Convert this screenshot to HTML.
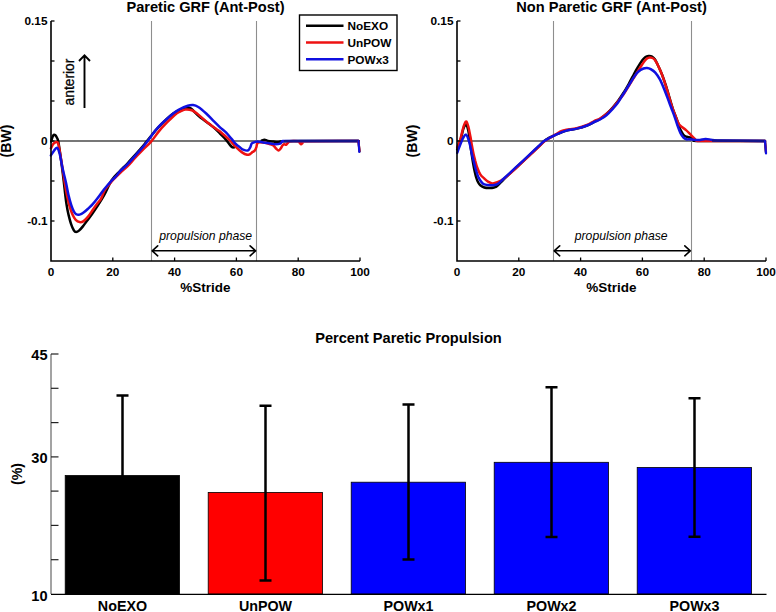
<!DOCTYPE html><html><head><meta charset="utf-8"><style>html,body{margin:0;padding:0;background:#fff;}svg{display:block;}text{font-family:"Liberation Sans",sans-serif;}</style></head><body>
<svg width="776" height="612" viewBox="0 0 776 612">
<rect width="776" height="612" fill="#fff"/>
<line x1="51.0" y1="141" x2="360.0" y2="141" stroke="#777" stroke-width="1.9"/>
<line x1="151.5" y1="21" x2="151.5" y2="261" stroke="#8e8e8e" stroke-width="1.1"/>
<line x1="256.5" y1="21" x2="256.5" y2="261" stroke="#8e8e8e" stroke-width="1.1"/>
<line x1="457.0" y1="141" x2="766.0" y2="141" stroke="#777" stroke-width="1.9"/>
<line x1="553.5" y1="21" x2="553.5" y2="261" stroke="#8e8e8e" stroke-width="1.1"/>
<line x1="691.5" y1="21" x2="691.5" y2="261" stroke="#8e8e8e" stroke-width="1.1"/>
<path d="M51.2,141.5 C51.4,140.8 51.9,138.6 52.3,137.5 C52.7,136.4 53.3,135.2 53.8,134.8 C54.3,134.4 55.0,134.9 55.5,135.3 C56.0,135.8 56.3,136.5 56.8,137.5 C57.3,138.5 57.7,138.4 58.3,141.5 C58.9,144.6 59.7,150.4 60.5,156.0 C61.3,161.6 62.2,168.5 63.0,175.0 C63.8,181.5 64.7,190.0 65.3,195.0 C65.9,200.0 66.1,201.5 66.6,204.8 C67.1,208.1 67.7,211.3 68.5,214.6 C69.3,217.9 70.3,221.8 71.2,224.4 C72.1,227.0 73.0,229.1 73.8,230.3 C74.6,231.6 75.2,231.9 76.1,231.9 C77.0,231.9 77.9,231.5 79.0,230.6 C80.1,229.7 81.6,228.0 82.9,226.4 C84.2,224.8 85.5,222.8 86.8,221.1 C88.1,219.3 89.2,218.2 90.8,215.9 C92.4,213.6 94.4,210.8 96.6,207.4 C98.8,204.0 101.5,200.0 104.0,195.5 C106.5,191.0 108.9,184.5 111.5,180.5 C114.1,176.5 116.8,174.3 119.5,171.5 C122.2,168.7 124.7,166.3 127.4,163.5 C130.1,160.7 132.9,157.5 135.5,154.6 C138.1,151.7 140.9,148.5 143.2,145.8 C145.4,143.1 146.4,141.6 149.0,138.5 C151.6,135.4 154.5,131.4 158.5,127.2 C162.5,123.0 169.0,116.6 173.2,113.5 C177.4,110.4 181.2,109.4 183.5,108.4 C185.8,107.5 185.8,107.8 187.0,107.8 C188.2,107.8 188.9,107.1 191.0,108.6 C193.1,110.1 196.0,113.8 199.6,116.8 C203.2,119.8 209.3,123.8 212.7,126.6 C216.1,129.4 218.0,131.6 220.0,133.5 C222.0,135.4 223.3,136.7 224.6,138.1 C225.9,139.5 226.5,140.6 227.7,142.0 C228.9,143.4 230.6,145.8 231.6,146.7 C232.6,147.6 233.5,147.3 233.9,147.4" fill="none" stroke="#000" stroke-width="2.5" stroke-linejoin="round" stroke-linecap="round"/>
<path d="M261.8,140.5 C262.2,140.4 263.5,139.6 264.5,139.7 C265.5,139.8 266.5,140.6 268.0,140.9 C269.5,141.2 271.7,141.4 273.4,141.6 C275.1,141.8 276.4,142.1 278.0,142.0 C279.6,141.9 279.3,141.4 283.0,141.2 C286.7,141.0 287.4,141.0 300.0,141.0 C312.6,141.0 348.8,141.0 358.5,141.0" fill="none" stroke="#000" stroke-width="2.5" stroke-linejoin="round" stroke-linecap="round"/>
<path d="M50.9,148.5 C51.2,147.9 51.9,146.0 52.5,145.0 C53.1,144.0 54.0,143.1 54.8,142.6 C55.6,142.1 56.6,141.7 57.3,142.2 C57.9,142.7 58.0,142.3 58.7,145.6 C59.4,148.9 60.6,156.6 61.5,162.0 C62.4,167.4 63.1,172.5 64.0,178.0 C64.9,183.5 66.0,190.5 66.9,195.0 C67.8,199.5 68.3,201.5 69.2,204.8 C70.1,208.1 71.4,212.1 72.5,214.6 C73.6,217.1 74.5,218.6 75.7,219.8 C76.9,221.1 78.3,221.9 79.6,222.1 C80.9,222.3 82.2,222.0 83.6,221.1 C85.0,220.2 86.6,218.4 88.1,216.6 C89.6,214.8 91.2,212.2 92.7,210.0 C94.2,207.8 95.9,205.4 97.3,203.5 C98.7,201.6 100.0,200.6 101.2,198.3 C102.5,196.1 103.4,192.3 104.8,190.0 C106.2,187.7 107.9,186.0 109.4,184.2 C110.9,182.3 112.2,180.8 114.0,178.9 C115.8,177.0 118.3,174.6 120.5,172.5 C122.7,170.4 125.0,168.8 127.4,166.4 C129.8,164.0 132.4,160.8 135.0,158.0 C137.6,155.2 140.3,152.2 143.0,149.5 C145.7,146.8 147.8,145.5 150.9,141.9 C154.0,138.3 157.5,132.7 161.5,128.2 C165.5,123.7 171.6,117.8 174.7,115.0 C177.8,112.2 178.2,112.5 180.0,111.6 C181.8,110.7 183.2,109.8 185.2,109.6 C187.2,109.4 189.8,109.6 191.8,110.3 C193.8,111.0 194.6,111.7 197.0,113.5 C199.4,115.3 202.9,118.8 206.2,121.4 C209.5,124.0 214.3,127.5 216.6,129.2 C218.9,130.9 218.7,130.4 220.0,131.5 C221.3,132.6 222.9,134.0 224.6,135.5 C226.3,137.0 228.2,138.6 230.0,140.5 C231.8,142.4 233.6,144.8 235.5,146.7 C237.4,148.6 239.8,150.8 241.7,152.1 C243.6,153.4 245.7,154.5 247.1,154.8 C248.5,155.1 249.3,154.4 250.2,154.0 C251.1,153.6 251.7,152.7 252.5,152.1 C253.3,151.5 254.2,151.3 254.8,150.5 C255.4,149.7 255.9,148.5 256.3,147.4 C256.7,146.3 256.7,144.7 257.1,143.9 C257.5,143.1 257.4,142.6 258.7,142.4 C260.0,142.2 263.0,142.5 265.0,142.8 C267.0,143.1 269.1,143.8 270.5,144.2 C271.9,144.6 272.5,144.8 273.4,145.5 C274.3,146.2 275.1,147.7 276.0,148.5 C276.9,149.3 277.8,150.6 278.6,150.5 C279.4,150.4 280.4,148.8 281.0,148.0 C281.6,147.2 282.0,146.1 282.5,145.5 C283.0,144.9 283.4,144.4 284.0,144.3 C284.6,144.2 285.7,144.9 286.3,144.7 C286.9,144.4 287.3,143.4 287.9,142.8 C288.5,142.2 288.3,141.5 290.0,141.2 C291.7,140.9 296.4,141.0 298.0,141.2 C299.6,141.4 299.0,142.0 299.5,142.5 C300.0,143.0 300.5,144.2 301.0,144.3 C301.5,144.4 302.0,143.5 302.5,143.0 C303.0,142.5 294.7,141.5 304.0,141.2 C313.3,140.9 349.4,141.0 358.5,141.0" fill="none" stroke="#ee1111" stroke-width="2.5" stroke-linejoin="round" stroke-linecap="round"/>
<path d="M50.9,155.4 C51.3,154.8 52.5,152.8 53.5,151.5 C54.5,150.2 56.0,147.3 57.0,147.7 C58.0,148.1 58.8,150.7 59.7,154.0 C60.6,157.3 61.4,162.7 62.4,167.5 C63.4,172.3 65.0,178.1 66.0,182.7 C67.0,187.3 67.6,191.3 68.5,195.0 C69.4,198.7 70.3,202.1 71.2,204.8 C72.1,207.5 72.9,209.7 73.8,211.3 C74.7,212.9 75.4,213.8 76.4,214.3 C77.4,214.9 78.4,214.9 79.6,214.6 C80.8,214.3 82.2,213.6 83.6,212.6 C85.0,211.6 86.6,210.1 88.1,208.7 C89.6,207.3 91.2,205.9 92.7,204.2 C94.2,202.5 95.3,201.1 97.3,198.5 C99.3,195.9 102.4,191.4 104.8,188.5 C107.2,185.6 109.4,183.0 111.4,180.9 C113.4,178.8 115.2,177.2 116.6,175.7 C117.9,174.2 117.7,173.7 119.5,171.8 C121.3,169.9 124.6,167.3 127.4,164.4 C130.2,161.5 133.4,157.7 136.2,154.6 C139.0,151.5 141.7,148.6 144.0,145.8 C146.3,143.0 147.5,141.1 149.9,137.9 C152.3,134.7 154.6,130.9 158.5,126.8 C162.4,122.7 169.6,116.5 173.2,113.5 C176.8,110.5 177.6,110.3 180.0,109.0 C182.4,107.7 185.6,106.4 187.8,105.7 C190.0,105.0 191.3,104.8 193.1,105.0 C194.8,105.2 196.1,105.6 198.3,107.0 C200.5,108.4 203.6,111.1 206.2,113.5 C208.8,115.9 211.7,119.1 214.0,121.4 C216.3,123.7 218.0,125.4 220.0,127.3 C222.0,129.2 224.3,130.8 226.2,132.7 C228.1,134.6 230.0,137.1 231.6,138.9 C233.2,140.7 234.1,142.2 235.5,143.6 C236.9,145.0 238.8,146.4 240.1,147.4 C241.4,148.4 241.9,149.2 243.2,149.7 C244.5,150.2 246.6,150.9 247.8,150.5 C249.0,150.1 249.5,148.6 250.2,147.4 C250.8,146.2 251.1,144.4 251.7,143.6 C252.3,142.8 253.1,142.7 254.0,142.4 C254.9,142.1 255.6,141.6 257.1,141.6 C258.7,141.6 261.1,142.1 263.3,142.4 C265.5,142.7 268.3,143.3 270.3,143.6 C272.3,143.9 273.9,144.3 275.5,144.3 C277.1,144.3 279.0,144.1 280.2,143.6 C281.4,143.1 280.9,142.0 282.5,141.6 C284.1,141.2 277.3,141.1 290.0,141.0 C302.7,140.9 347.1,141.0 358.5,141.0" fill="none" stroke="#1010e0" stroke-width="2.5" stroke-linejoin="round" stroke-linecap="round"/>
<path d="M457.2,149.5 C457.8,147.9 459.5,143.2 460.5,140.0 C461.5,136.8 462.3,132.4 463.0,130.0 C463.7,127.6 464.2,126.4 464.8,125.5 C465.4,124.6 465.7,123.8 466.3,124.5 C466.9,125.2 467.7,127.8 468.2,130.0 C468.7,132.2 469.1,135.3 469.5,138.0 C469.9,140.7 470.2,143.5 470.5,146.0 C470.8,148.5 471.1,150.3 471.5,153.0 C471.9,155.7 472.4,159.1 472.9,162.0 C473.4,164.9 473.9,167.9 474.5,170.5 C475.1,173.1 475.6,175.5 476.2,177.5 C476.8,179.5 477.5,181.2 478.2,182.5 C478.9,183.8 479.3,184.4 480.3,185.2 C481.3,186.0 482.8,187.0 484.3,187.5 C485.8,188.0 487.6,188.0 489.2,188.0 C490.8,188.0 492.7,187.9 494.1,187.5 C495.5,187.1 495.9,187.1 497.4,185.8 C498.9,184.6 501.0,182.1 503.1,180.0 C505.2,177.9 507.8,175.5 510.0,173.4 C512.2,171.3 513.9,169.8 516.3,167.5 C518.7,165.2 521.8,162.4 524.5,159.8 C527.2,157.2 530.4,154.4 532.7,152.2 C535.0,150.0 536.7,148.4 538.5,146.7 C540.3,145.0 541.8,143.3 543.5,141.8 C545.2,140.3 546.7,139.1 549.0,137.8 C551.3,136.5 554.2,135.4 557.1,134.2 C560.0,133.0 563.1,131.5 566.4,130.6 C569.7,129.7 573.3,129.4 576.7,128.6 C580.1,127.8 584.1,126.6 587.0,125.5 C589.9,124.4 592.0,123.0 594.2,121.9 C596.4,120.8 598.0,120.3 600.0,119.0 C602.0,117.7 604.3,115.9 606.4,114.0 C608.5,112.1 610.8,109.7 612.7,107.5 C614.6,105.3 616.2,103.4 618.0,101.0 C619.8,98.6 621.6,95.8 623.4,93.0 C625.2,90.2 626.9,87.2 628.7,84.0 C630.5,80.8 632.5,76.8 634.0,74.0 C635.5,71.2 636.6,69.3 638.0,67.0 C639.4,64.7 641.2,61.7 642.5,60.0 C643.8,58.3 644.5,57.7 645.5,57.0 C646.5,56.3 647.4,56.1 648.5,56.0 C649.6,55.9 650.9,55.9 652.0,56.5 C653.1,57.1 653.9,57.8 655.0,59.5 C656.1,61.2 657.3,64.0 658.5,66.5 C659.7,69.0 660.8,71.5 662.0,74.5 C663.2,77.5 664.3,80.9 665.5,84.5 C666.7,88.1 667.9,92.2 669.0,96.0 C670.1,99.8 671.2,104.0 672.4,107.5 C673.5,111.0 674.9,114.2 675.9,117.0 C676.9,119.8 677.7,121.8 678.5,124.0 C679.3,126.2 679.6,128.0 680.5,129.9 C681.4,131.8 682.7,134.0 683.7,135.2 C684.8,136.3 685.6,136.4 686.8,136.8 C688.0,137.2 689.7,137.4 691.1,137.9 C692.5,138.4 693.8,139.5 695.3,140.0 C696.8,140.5 688.4,140.8 700.0,141.0 C711.6,141.2 754.2,141.0 765.0,141.0" fill="none" stroke="#000" stroke-width="2.5" stroke-linejoin="round" stroke-linecap="round"/>
<path d="M457.2,147.7 C457.7,146.4 459.3,142.9 460.2,139.8 C461.1,136.8 462.1,132.0 462.8,129.4 C463.5,126.8 463.9,125.3 464.5,124.0 C465.1,122.7 465.8,121.0 466.4,121.5 C467.0,122.0 467.7,124.3 468.4,126.8 C469.1,129.3 469.8,133.6 470.4,136.6 C471.0,139.6 471.2,142.0 471.8,145.0 C472.4,148.0 473.1,152.1 473.7,154.8 C474.3,157.5 474.8,159.0 475.3,161.0 C475.9,163.0 476.2,164.8 477.0,167.0 C477.8,169.2 479.1,172.5 480.3,174.4 C481.5,176.3 483.0,177.3 484.3,178.5 C485.6,179.7 487.0,181.0 488.4,181.8 C489.8,182.6 491.0,183.3 492.5,183.4 C494.0,183.5 495.6,182.9 497.4,182.2 C499.2,181.5 501.0,180.7 503.1,179.3 C505.2,177.9 507.8,175.5 510.0,173.6 C512.2,171.7 513.9,170.0 516.3,167.8 C518.7,165.6 521.8,162.8 524.5,160.2 C527.2,157.6 530.4,154.7 532.7,152.5 C535.0,150.3 536.6,148.8 538.5,147.0 C540.4,145.2 542.4,143.0 544.1,141.6 C545.9,140.2 546.8,139.8 549.0,138.4 C551.2,137.1 555.1,134.7 557.1,133.5 C559.1,132.3 559.7,131.7 561.2,131.1 C562.8,130.5 563.8,130.3 566.4,129.8 C569.0,129.3 573.3,129.1 576.7,128.3 C580.1,127.5 584.1,126.2 587.0,125.0 C589.9,123.8 592.0,122.1 594.2,121.0 C596.4,119.9 598.0,119.7 600.0,118.5 C602.0,117.3 604.3,115.8 606.4,114.0 C608.5,112.2 610.8,110.1 612.7,108.0 C614.6,105.9 616.2,103.8 618.0,101.5 C619.8,99.2 621.6,97.1 623.4,94.5 C625.2,91.9 626.9,88.8 628.7,86.0 C630.5,83.2 632.4,80.1 634.0,77.5 C635.6,74.9 637.0,72.6 638.2,70.6 C639.5,68.6 640.4,67.1 641.5,65.5 C642.6,63.9 643.7,62.2 644.6,61.0 C645.5,59.8 646.2,59.1 647.0,58.5 C647.8,57.9 648.6,57.6 649.5,57.5 C650.4,57.4 651.5,57.5 652.5,58.0 C653.5,58.5 654.3,59.0 655.3,60.5 C656.3,62.0 657.6,64.5 658.7,66.9 C659.8,69.3 661.0,71.9 662.1,74.9 C663.2,77.9 664.5,81.5 665.6,85.1 C666.8,88.7 667.9,92.8 669.0,96.6 C670.1,100.4 671.2,104.6 672.4,108.0 C673.5,111.4 674.9,114.5 675.9,117.1 C676.9,119.7 677.6,121.9 678.5,123.5 C679.4,125.1 680.3,125.6 681.5,126.7 C682.7,127.8 684.2,128.5 685.8,129.9 C687.4,131.3 689.5,133.6 691.1,135.2 C692.7,136.8 694.2,138.4 695.3,139.4 C696.4,140.4 695.0,140.7 697.5,141.0 C700.0,141.3 698.8,141.0 710.0,141.0 C721.2,141.0 755.8,141.0 765.0,141.0" fill="none" stroke="#ee1111" stroke-width="2.5" stroke-linejoin="round" stroke-linecap="round"/>
<path d="M457.2,152.9 C457.8,151.3 459.8,145.7 460.9,143.1 C461.9,140.5 462.6,138.6 463.5,137.2 C464.4,135.8 465.3,134.4 466.1,134.6 C466.9,134.8 467.5,136.8 468.1,138.5 C468.8,140.2 469.4,142.6 470.0,145.0 C470.6,147.4 471.1,150.5 471.7,153.2 C472.3,155.9 473.0,158.6 473.7,161.3 C474.4,164.0 475.0,166.8 475.8,169.5 C476.6,172.2 477.5,175.4 478.6,177.7 C479.8,180.0 481.2,182.2 482.7,183.4 C484.2,184.6 486.0,184.7 487.6,185.0 C489.2,185.3 490.9,185.3 492.5,185.2 C494.1,185.1 495.6,185.2 497.4,184.2 C499.2,183.2 501.2,180.9 503.3,179.0 C505.4,177.1 507.8,174.8 510.0,172.8 C512.2,170.8 513.9,169.2 516.3,166.9 C518.7,164.7 521.8,161.9 524.5,159.3 C527.2,156.8 530.4,153.8 532.7,151.6 C535.0,149.4 536.6,148.0 538.5,146.2 C540.4,144.4 542.4,142.3 544.1,141.0 C545.9,139.7 546.8,139.3 549.0,138.2 C551.2,137.1 554.2,135.5 557.1,134.2 C560.0,132.9 563.1,131.5 566.4,130.6 C569.7,129.7 573.3,129.4 576.7,128.6 C580.1,127.8 584.1,126.6 587.0,125.5 C589.9,124.4 592.0,123.0 594.2,122.0 C596.4,121.0 598.0,120.6 600.0,119.5 C602.0,118.4 604.3,117.0 606.4,115.2 C608.5,113.4 610.8,110.9 612.7,108.8 C614.6,106.7 616.2,105.0 618.0,102.5 C619.8,100.0 621.6,96.8 623.4,94.0 C625.2,91.2 626.9,88.3 628.7,85.5 C630.5,82.7 632.4,79.3 634.0,77.0 C635.6,74.7 636.6,73.1 638.2,71.7 C639.8,70.3 642.0,69.1 643.5,68.5 C645.0,67.9 645.8,67.9 647.0,68.0 C648.2,68.1 649.3,68.3 650.7,69.1 C652.1,69.9 653.8,70.9 655.3,72.6 C656.8,74.3 658.4,76.6 659.9,79.4 C661.4,82.2 663.1,86.5 664.4,89.7 C665.7,93.0 666.8,95.9 667.9,98.9 C669.0,102.0 670.2,105.0 671.3,108.0 C672.4,111.0 673.7,114.2 674.7,117.1 C675.7,120.0 676.5,122.8 677.5,125.5 C678.5,128.2 679.5,131.1 680.5,133.1 C681.5,135.1 682.5,136.5 683.5,137.5 C684.5,138.5 685.6,139.0 686.5,139.3 C687.4,139.6 687.5,139.2 689.0,139.3 C690.5,139.4 693.5,139.9 695.3,140.0 C697.1,140.1 698.3,140.2 700.0,140.0 C701.7,139.8 703.5,139.1 705.4,139.0 C707.3,138.9 709.1,139.4 711.5,139.7 C713.9,139.9 711.1,140.3 720.0,140.5 C728.9,140.7 757.5,140.9 765.0,141.0" fill="none" stroke="#1010e0" stroke-width="2.5" stroke-linejoin="round" stroke-linecap="round"/>
<path d="M284,141.1 L358.5,141 M712,140.6 L765,141" fill="none" stroke="#14148a" stroke-width="2.4"/>
<path d="M358.5,141.0 L359.5,151.5" fill="none" stroke="#000" stroke-width="2.2" stroke-linecap="round"/>
<path d="M358.5,141.3 L359.5,151.0" fill="none" stroke="#ee1111" stroke-width="2.2" stroke-linecap="round"/>
<path d="M358.5,141.0 L359.3,152.0" fill="none" stroke="#1010e0" stroke-width="2.2" stroke-linecap="round"/>
<path d="M765.0,141.0 L766.0,153.0" fill="none" stroke="#000" stroke-width="2.2" stroke-linecap="round"/>
<path d="M765.0,141.3 L766.0,152.0" fill="none" stroke="#ee1111" stroke-width="2.2" stroke-linecap="round"/>
<path d="M765.0,141.0 L766.0,153.5" fill="none" stroke="#1010e0" stroke-width="2.2" stroke-linecap="round"/>
<path d="M51.0,21 V261 H360.0" fill="none" stroke="#000" stroke-width="1.6"/>
<line x1="51.0" y1="21" x2="54.5" y2="21" stroke="#000" stroke-width="1.3"/>
<line x1="51.0" y1="61" x2="54.5" y2="61" stroke="#000" stroke-width="1.3"/>
<line x1="51.0" y1="101" x2="54.5" y2="101" stroke="#000" stroke-width="1.3"/>
<line x1="51.0" y1="141" x2="54.5" y2="141" stroke="#000" stroke-width="1.3"/>
<line x1="51.0" y1="181" x2="54.5" y2="181" stroke="#000" stroke-width="1.3"/>
<line x1="51.0" y1="221" x2="54.5" y2="221" stroke="#000" stroke-width="1.3"/>
<line x1="112.8" y1="261" x2="112.8" y2="257.5" stroke="#000" stroke-width="1.3"/>
<line x1="174.6" y1="261" x2="174.6" y2="257.5" stroke="#000" stroke-width="1.3"/>
<line x1="236.4" y1="261" x2="236.4" y2="257.5" stroke="#000" stroke-width="1.3"/>
<line x1="298.2" y1="261" x2="298.2" y2="257.5" stroke="#000" stroke-width="1.3"/>
<line x1="360.0" y1="261" x2="360.0" y2="257.5" stroke="#000" stroke-width="1.3"/>
<text x="51.0" y="276" font-size="11.8" font-weight="bold" text-anchor="middle">0</text>
<text x="112.8" y="276" font-size="11.8" font-weight="bold" text-anchor="middle">20</text>
<text x="174.6" y="276" font-size="11.8" font-weight="bold" text-anchor="middle">40</text>
<text x="236.4" y="276" font-size="11.8" font-weight="bold" text-anchor="middle">60</text>
<text x="298.2" y="276" font-size="11.8" font-weight="bold" text-anchor="middle">80</text>
<text x="360.0" y="276" font-size="11.8" font-weight="bold" text-anchor="middle">100</text>
<text x="47.5" y="25.3" font-size="11.8" font-weight="bold" text-anchor="end">0.15</text>
<text x="47.5" y="145.3" font-size="11.8" font-weight="bold" text-anchor="end">0</text>
<text x="47.5" y="225.3" font-size="11.8" font-weight="bold" text-anchor="end">-0.1</text>
<text x="205.5" y="292.3" font-size="13.5" font-weight="bold" text-anchor="middle">%Stride</text>
<text transform="translate(11.3,141) rotate(-90)" font-size="14.2" font-weight="bold" text-anchor="middle">(BW)</text>
<path d="M457.0,21 V261 H766.0" fill="none" stroke="#000" stroke-width="1.6"/>
<line x1="457.0" y1="21" x2="460.5" y2="21" stroke="#000" stroke-width="1.3"/>
<line x1="457.0" y1="61" x2="460.5" y2="61" stroke="#000" stroke-width="1.3"/>
<line x1="457.0" y1="101" x2="460.5" y2="101" stroke="#000" stroke-width="1.3"/>
<line x1="457.0" y1="141" x2="460.5" y2="141" stroke="#000" stroke-width="1.3"/>
<line x1="457.0" y1="181" x2="460.5" y2="181" stroke="#000" stroke-width="1.3"/>
<line x1="457.0" y1="221" x2="460.5" y2="221" stroke="#000" stroke-width="1.3"/>
<line x1="518.8" y1="261" x2="518.8" y2="257.5" stroke="#000" stroke-width="1.3"/>
<line x1="580.6" y1="261" x2="580.6" y2="257.5" stroke="#000" stroke-width="1.3"/>
<line x1="642.4" y1="261" x2="642.4" y2="257.5" stroke="#000" stroke-width="1.3"/>
<line x1="704.2" y1="261" x2="704.2" y2="257.5" stroke="#000" stroke-width="1.3"/>
<line x1="766.0" y1="261" x2="766.0" y2="257.5" stroke="#000" stroke-width="1.3"/>
<text x="457.0" y="276" font-size="11.8" font-weight="bold" text-anchor="middle">0</text>
<text x="518.8" y="276" font-size="11.8" font-weight="bold" text-anchor="middle">20</text>
<text x="580.6" y="276" font-size="11.8" font-weight="bold" text-anchor="middle">40</text>
<text x="642.4" y="276" font-size="11.8" font-weight="bold" text-anchor="middle">60</text>
<text x="704.2" y="276" font-size="11.8" font-weight="bold" text-anchor="middle">80</text>
<text x="766.0" y="276" font-size="11.8" font-weight="bold" text-anchor="middle">100</text>
<text x="453.5" y="25.3" font-size="11.8" font-weight="bold" text-anchor="end">0.15</text>
<text x="453.5" y="145.3" font-size="11.8" font-weight="bold" text-anchor="end">0</text>
<text x="453.5" y="225.3" font-size="11.8" font-weight="bold" text-anchor="end">-0.1</text>
<text x="611.5" y="292.3" font-size="13.5" font-weight="bold" text-anchor="middle">%Stride</text>
<text transform="translate(417.3,141) rotate(-90)" font-size="14.2" font-weight="bold" text-anchor="middle">(BW)</text>
<path d="M152.2,250.8 H255.6 M152.2,250.8 l5.5,-5 M152.2,250.8 l5.5,5 M255.6,250.8 l-5.5,-5 M255.6,250.8 l-5.5,5" fill="none" stroke="#000" stroke-width="1.6" stroke-linecap="round"/>
<text x="205.7" y="240.2" font-size="12.2" font-style="italic" text-anchor="middle">propulsion phase</text>
<path d="M554.2,250.8 H690.3 M554.2,250.8 l5.5,-5 M554.2,250.8 l5.5,5 M690.3,250.8 l-5.5,-5 M690.3,250.8 l-5.5,5" fill="none" stroke="#000" stroke-width="1.6" stroke-linecap="round"/>
<text x="621.2" y="240.2" font-size="12.2" font-style="italic" text-anchor="middle">propulsion phase</text>
<text x="205.5" y="11.5" font-size="14.6" font-weight="bold" text-anchor="middle">Paretic GRF (Ant-Post)</text>
<text x="611.5" y="11.5" font-size="14.6" font-weight="bold" text-anchor="middle">Non Paretic GRF (Ant-Post)</text>
<text transform="translate(74.4,82) rotate(-90)" font-size="13.8" text-anchor="middle" stroke="#000" stroke-width="0.3">anterior</text>
<path d="M84.5,108 V55.5 M79,61 L84.5,55.3 L90,61" fill="none" stroke="#000" stroke-width="1.9"/>
<rect x="299.5" y="15" width="97.5" height="55.5" fill="#fff" stroke="#000" stroke-width="1.4"/>
<line x1="306" y1="25.8" x2="343.5" y2="25.8" stroke="#000" stroke-width="2.5"/>
<text x="347.5" y="30.0" font-size="11.8" font-weight="bold">NoEXO</text>
<line x1="306" y1="42.6" x2="343.5" y2="42.6" stroke="#ee1111" stroke-width="2.5"/>
<text x="347.5" y="46.8" font-size="11.8" font-weight="bold">UnPOW</text>
<line x1="306" y1="59.3" x2="343.5" y2="59.3" stroke="#1010e0" stroke-width="2.5"/>
<text x="347.5" y="63.5" font-size="11.8" font-weight="bold">POWx3</text>
<text x="408.5" y="343.2" font-size="14.6" font-weight="bold" text-anchor="middle">Percent Paretic Propulsion</text>
<rect x="65.2" y="475.5" width="114.3" height="118.5" fill="#000" stroke="#000" stroke-width="0.8"/>
<rect x="208.2" y="492.4" width="114.3" height="101.6" fill="#ff0000" stroke="#000" stroke-width="0.8"/>
<rect x="351.2" y="482.2" width="114.3" height="111.8" fill="#0000ff" stroke="#000" stroke-width="0.8"/>
<rect x="494.2" y="462.3" width="114.3" height="131.7" fill="#0000ff" stroke="#000" stroke-width="0.8"/>
<rect x="637.2" y="467.5" width="114.3" height="126.5" fill="#0000ff" stroke="#000" stroke-width="0.8"/>
<path d="M122.5,395.6 V555.4 M116.5,395.6 H128.5 M116.5,555.4 H128.5" fill="none" stroke="#000" stroke-width="2.5"/>
<text x="122.5" y="610.8" font-size="14.3" font-weight="bold" text-anchor="middle">NoEXO</text>
<path d="M265.5,405.7 V580.4 M259.5,405.7 H271.5 M259.5,580.4 H271.5" fill="none" stroke="#000" stroke-width="2.5"/>
<text x="265.5" y="610.8" font-size="14.3" font-weight="bold" text-anchor="middle">UnPOW</text>
<path d="M408.5,404.4 V559.4 M402.5,404.4 H414.5 M402.5,559.4 H414.5" fill="none" stroke="#000" stroke-width="2.5"/>
<text x="408.5" y="610.8" font-size="14.3" font-weight="bold" text-anchor="middle">POWx1</text>
<path d="M551.5,387.3 V536.9 M545.5,387.3 H557.5 M545.5,536.9 H557.5" fill="none" stroke="#000" stroke-width="2.5"/>
<text x="551.5" y="610.8" font-size="14.3" font-weight="bold" text-anchor="middle">POWx2</text>
<path d="M694.5,398.2 V536.7 M688.5,398.2 H700.5 M688.5,536.7 H700.5" fill="none" stroke="#000" stroke-width="2.5"/>
<text x="694.5" y="610.8" font-size="14.3" font-weight="bold" text-anchor="middle">POWx3</text>
<line x1="51" y1="354" x2="51" y2="594" stroke="#666" stroke-width="1.2"/>
<line x1="51" y1="594.3" x2="766.5" y2="594.3" stroke="#000" stroke-width="1.2"/>
<line x1="51" y1="354.0" x2="58.5" y2="354.0" stroke="#222" stroke-width="1.2"/>
<line x1="51" y1="388.3" x2="58.5" y2="388.3" stroke="#222" stroke-width="1.2"/>
<line x1="51" y1="422.6" x2="58.5" y2="422.6" stroke="#222" stroke-width="1.2"/>
<line x1="51" y1="456.9" x2="58.5" y2="456.9" stroke="#222" stroke-width="1.2"/>
<line x1="51" y1="491.1" x2="58.5" y2="491.1" stroke="#222" stroke-width="1.2"/>
<line x1="51" y1="525.4" x2="58.5" y2="525.4" stroke="#222" stroke-width="1.2"/>
<line x1="51" y1="559.7" x2="58.5" y2="559.7" stroke="#222" stroke-width="1.2"/>
<text x="47.5" y="359.8" font-size="14.6" font-weight="bold" text-anchor="end">45</text>
<text x="47.5" y="462.7" font-size="14.6" font-weight="bold" text-anchor="end">30</text>
<text x="47.5" y="600.8" font-size="14.6" font-weight="bold" text-anchor="end">10</text>
<text transform="translate(22.2,474) rotate(-90)" font-size="14.3" font-weight="bold" text-anchor="middle">(%)</text>
</svg></body></html>
